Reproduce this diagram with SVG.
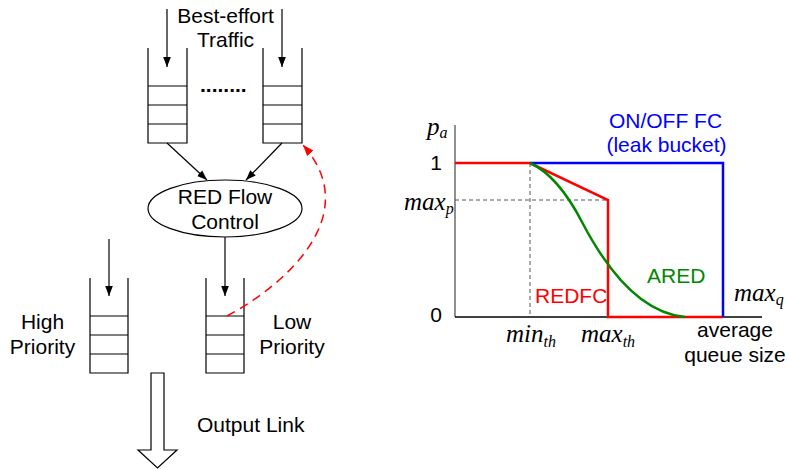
<svg xmlns="http://www.w3.org/2000/svg" width="789" height="469" viewBox="0 0 789 469">
<defs>
<style>
.t{font-family:"Liberation Sans",Arial,sans-serif;font-size:21px;fill:#000}
.m{font-family:"Liberation Serif","Times New Roman",serif;font-style:italic;font-size:25px;fill:#000}
.s{font-size:16px}
.q{fill:none;stroke:#000;stroke-width:1.2}
.c{fill:none;stroke:#000;stroke-width:1.2}
</style>
<marker id="ah" markerWidth="10" markerHeight="13" refX="13" refY="5" viewBox="0 0 13 10" orient="auto" markerUnits="userSpaceOnUse">
<path d="M0,0 L13,5 L0,10 Z" fill="#000"/>
</marker>
<marker id="ahr" markerWidth="11" markerHeight="14" refX="13" refY="5" viewBox="0 0 13 10" orient="auto" markerUnits="userSpaceOnUse">
<path d="M0,0 L13,5 L0,10 Z" fill="#f00"/>
</marker>
</defs>
<rect width="789" height="469" fill="#fff"/>

<g id="label-traffic">
<text class="t" x="225.5" y="23" text-anchor="middle">Best-effort</text>
<text class="t" x="225.5" y="47" text-anchor="middle">Traffic</text>
</g>
<g id="queue-be-1">
<path class="q" d="M148,48 V143 H187 V48 M148,86 H187 M148,105 H187 M148,124 H187"/>
</g>
<g id="dots">
<text class="t" x="200" y="92" font-weight="bold">........</text>
</g>
<g id="queue-be-n">
<path class="q" d="M263,48 V143 H302 V48 M263,86 H302 M263,105 H302 M263,124 H302"/>
</g>
<g id="red-flow-control">
<ellipse cx="225" cy="208.5" rx="77" ry="28.5" fill="#fff" stroke="#000" stroke-width="1.2"/>
<text class="t" x="225" y="204" text-anchor="middle">RED Flow</text>
<text class="t" x="225" y="229" text-anchor="middle">Control</text>
</g>
<g id="queue-high">
<path class="q" d="M90,278 V373 H128 V278 M90,316 H128 M90,335 H128 M90,354 H128"/>
<text class="t" x="42.5" y="329" text-anchor="middle">High</text>
<text class="t" x="42.5" y="354" text-anchor="middle">Priority</text>
</g>
<g id="queue-low">
<path class="q" d="M206,278 V373 H244 V278 M206,316 H244 M206,335 H244 M206,354 H244"/>
<text class="t" x="292" y="329" text-anchor="middle">Low</text>
<text class="t" x="292" y="354" text-anchor="middle">Priority</text>
</g>
<g id="output-link">
<path d="M151,373 H164 V450 H177 L157.5,468 L138,450 H151 Z" fill="#fff" stroke="#000" stroke-width="1.2"/>
<text class="t" x="197" y="432">Output Link</text>
</g>

<g id="connectors">
<line class="c" x1="167" y1="9" x2="167" y2="67" marker-end="url(#ah)"/>
<line class="c" x1="282" y1="9" x2="282" y2="67" marker-end="url(#ah)"/>
<line class="c" x1="167" y1="143" x2="207" y2="180" marker-end="url(#ah)"/>
<line class="c" x1="282" y1="143" x2="246" y2="180" marker-end="url(#ah)"/>
<line class="c" x1="225" y1="237" x2="225" y2="296" marker-end="url(#ah)"/>
<line class="c" x1="109" y1="239" x2="109" y2="296" marker-end="url(#ah)"/>
<path d="M227,316 C285,285 365,215 303,145" fill="none" stroke="#f00" stroke-width="1.5" stroke-dasharray="9,6" marker-end="url(#ahr)"/>
</g>

<g id="chart">
<line x1="455" y1="125" x2="455" y2="317" stroke="#555" stroke-width="1.3"/>
<line x1="455" y1="317" x2="762" y2="317" stroke="#000" stroke-width="1.3"/>
<line x1="455" y1="200" x2="608" y2="200" stroke="#555" stroke-width="1" stroke-dasharray="4,3"/>
<line x1="530" y1="163" x2="530" y2="317" stroke="#555" stroke-width="1" stroke-dasharray="4,3"/>
<polyline points="455,163 530,163 608,200 608,317 723,317" fill="none" stroke="#f00" stroke-width="2.5"/>
<polyline points="530,163 723,163 723,317" fill="none" stroke="#00f" stroke-width="2.5"/>
<path d="M530,163 C550,172 568,195 582,222 C594,245 630,312 685,317" fill="none" stroke="#080" stroke-width="2.5"/>
<text class="m" x="427" y="135">p<tspan class="s" dy="3">a</tspan></text>
<text class="t" x="436" y="170" text-anchor="middle">1</text>
<text class="t" x="436" y="322" text-anchor="middle">0</text>
<text class="m" x="404" y="210">max<tspan class="s" dy="4">p</tspan></text>
<text class="m" x="506" y="342">min<tspan class="s" dy="5">th</tspan></text>
<text class="m" x="581" y="342">max<tspan class="s" dy="5">th</tspan></text>
<text class="m" x="734" y="301">max<tspan class="s" dy="4">q</tspan></text>
<text class="t" x="665.5" y="128" text-anchor="middle" style="fill:#00f">ON/OFF FC</text>
<text class="t" x="666.5" y="152" text-anchor="middle" style="fill:#00f">(leak bucket)</text>
<text class="t" x="535" y="303" style="fill:#f00">REDFC</text>
<text class="t" x="647" y="283" style="fill:#080">ARED</text>
<text class="t" x="735" y="337" text-anchor="middle">average</text>
<text class="t" x="735" y="362" text-anchor="middle">queue size</text>
</g>
</svg>
